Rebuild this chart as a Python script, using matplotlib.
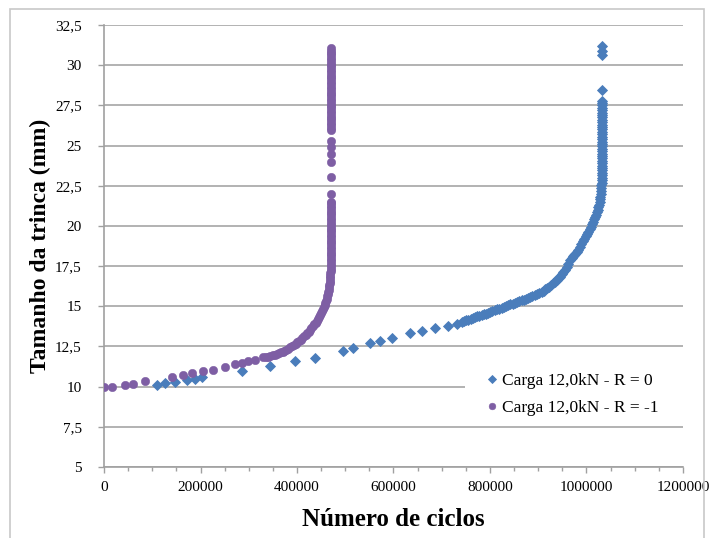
import matplotlib
matplotlib.use("Agg")
import matplotlib.pyplot as plt
from matplotlib.ticker import MultipleLocator, FuncFormatter
from matplotlib.patches import Rectangle

plt.rcParams['font.family'] = ['Liberation Serif', 'DejaVu Serif']

# Carga 12,0kN - R = 0 (blue diamonds)
r0_ciclos = [109000, 126000, 147000, 171000, 188500, 202500, 285000, 344000, 396000, 437000,
             496000, 517000, 551000, 572000, 596000, 634000, 660000, 686000, 713000, 731000,
             741000, 745500, 750000, 755000, 760000, 764500, 769000, 773500, 778000, 782500,
             787000, 791500, 796000, 800500, 805000, 809500, 814000, 819000, 824000, 828500,
             833000, 837500, 842000, 847000, 852000, 856500, 861000, 865500, 870000, 874500,
             879000, 883500, 888000, 892500, 897000, 902000, 907000, 911000, 915000, 919000,
             923000, 927000, 931000, 934500, 938000, 941500, 945000, 948500, 952000, 955500,
             959000, 962500, 966000, 969000, 972000, 974500, 977000, 980000, 983000, 986000,
             989000, 992000, 995000, 998000, 1001000, 1004000, 1007000, 1009500, 1012000, 1014000,
             1016000, 1018000, 1020000, 1021500, 1023000, 1024500, 1026000, 1027000, 1028000, 1029000,
             1029500, 1030000, 1030500, 1031000, 1031500, 1032000, 1032000,
             1032500, 1032500, 1032500, 1032500, 1032500, 1032500, 1032500, 1032500,
             1032500, 1032500, 1032500, 1032500, 1032500, 1032500, 1032500, 1032500,
             1032500, 1032500, 1032500, 1032500, 1032500, 1032500, 1032500, 1032500,
             1032500, 1032500, 1032500, 1032500, 1032500, 1032500, 1032500, 1032500,
             1032000, 1031500, 1031500, 1031500]
r0_trinca = [10.10, 10.20, 10.30, 10.41, 10.45, 10.58, 10.99, 11.28, 11.59, 11.80,
             12.21, 12.42, 12.69, 12.84, 13.04, 13.33, 13.48, 13.62, 13.80, 13.92,
             14.05, 14.08, 14.12, 14.17, 14.22, 14.27, 14.33, 14.37, 14.42, 14.46,
             14.51, 14.55, 14.60, 14.65, 14.70, 14.75, 14.81, 14.86, 14.92, 14.97,
             15.02, 15.07, 15.12, 15.17, 15.22, 15.27, 15.32, 15.37, 15.42, 15.47,
             15.53, 15.58, 15.64, 15.70, 15.76, 15.83, 15.90, 15.97, 16.05, 16.13,
             16.22, 16.32, 16.42, 16.52, 16.62, 16.73, 16.85, 16.98, 17.12, 17.28,
             17.45, 17.65, 17.85, 17.98, 18.10, 18.18, 18.25, 18.37, 18.50, 18.70,
             18.90, 19.05, 19.20, 19.35, 19.50, 19.65, 19.80, 19.95, 20.10, 20.25,
             20.40, 20.55, 20.70, 20.85, 21.00, 21.15, 21.30, 21.48, 21.65, 21.82,
             22.00, 22.18, 22.35, 22.52, 22.70, 22.85, 23.00,
             23.15, 23.30, 23.45, 23.60, 23.75, 23.90, 24.05, 24.20,
             24.35, 24.50, 24.65, 24.80, 24.95, 25.10, 25.25, 25.40,
             25.55, 25.70, 25.85, 26.00, 26.15, 26.30, 26.45, 26.60,
             26.75, 26.90, 27.05, 27.20, 27.35, 27.50, 27.65, 27.80,
             28.45, 30.62, 30.90, 31.18]

# Carga 12,0kN - R = -1 (purple circles)
rm1_ciclos = [0, 16000, 43500, 59500, 85000, 140000, 163000, 182000, 206000, 226500,
              251000, 271500, 285000, 299000, 313000,
              330000, 335000, 340000, 345000, 350000, 354000, 358000, 362000, 366000, 370000,
              374000, 378000, 382000, 386000, 390000, 393500, 397000, 400500, 404000, 407500,
              411000, 414500, 418000, 421000, 424000, 427000, 430000, 433000, 436000, 438500,
              441000, 443500, 446000, 448000, 450000, 452000, 454000, 456000, 457500, 459000,
              460500, 462000, 463000, 464000, 465000, 466000, 466500, 467000, 467500, 468000,
              468500, 469000, 469200, 469500, 469800, 470000, 470300, 470500, 470700, 470900,
              471000, 471200, 471200, 471300, 471300, 471300, 471400, 471400, 471400, 471400,
              471500, 471500, 471500, 471500, 471500, 471500, 471500, 471500, 471500, 471500,
              471500, 471500, 471500, 471500, 471500, 471500, 471500, 471500,
              471500, 471500, 471500, 471500, 471500, 471500, 471500, 471500, 471500, 471500,
              471500, 471500, 471500, 471500, 471500, 471500, 471500, 471500, 471500, 471500,
              471500, 471500, 471500, 471500, 471500, 471500, 471500, 471500, 471500, 471500,
              471500, 471500, 471500, 471500, 471500, 471500]
rm1_trinca = [10.00, 10.00, 10.10, 10.17, 10.33, 10.58, 10.72, 10.86, 10.99, 11.05,
              11.20, 11.40, 11.48, 11.58, 11.68,
              11.82, 11.85, 11.87, 11.91, 11.95, 11.99, 12.03, 12.08, 12.13, 12.18,
              12.24, 12.30, 12.37, 12.44, 12.52, 12.60, 12.68, 12.76, 12.84, 12.93,
              13.02, 13.12, 13.22, 13.32, 13.42, 13.52, 13.63, 13.75, 13.87, 13.97,
              14.08, 14.20, 14.33, 14.45, 14.57, 14.70, 14.83, 14.95, 15.08, 15.22,
              15.35, 15.48, 15.62, 15.76, 15.90, 16.04, 16.18, 16.32, 16.46, 16.60,
              16.75, 16.90, 17.05, 17.20, 17.35, 17.50, 17.65, 17.80, 17.95, 18.10,
              18.25, 18.40, 18.55, 18.70, 18.85, 19.00, 19.15, 19.30, 19.45, 19.60,
              19.75, 19.90, 20.05, 20.20, 20.35, 20.50, 20.65, 20.80, 20.95, 21.10,
              21.25, 21.40, 21.50, 22.00, 23.05, 24.00, 24.50, 24.90,
              25.30, 25.96, 26.11, 26.26, 26.41, 26.56, 26.71, 26.86, 27.01, 27.16,
              27.31, 27.46, 27.61, 27.76, 27.91, 28.06, 28.21, 28.36, 28.51, 28.66,
              28.81, 28.96, 29.11, 29.26, 29.41, 29.56, 29.71, 29.86, 30.01, 30.16,
              30.31, 30.46, 30.61, 30.76, 30.91, 31.04]

labels = ['Carga 12,0kN - R = 0', 'Carga 12,0kN - R = -1']
xlabel = 'Número de ciclos'
ylabel = 'Tamanho da trinca (mm)'

W, H = 715, 538
fig = plt.figure(figsize=(W / 100, H / 100), dpi=100)
fig.patch.set_facecolor('white')

# outer chart border
fig.add_artist(Rectangle((10 / W, -0.01), (W - 11) / W - 10 / W, 1 - 9 / H + 0.01,
                         transform=fig.transFigure, fill=False, edgecolor='#c8c8c8', lw=1.2))

ax = fig.add_axes([104 / W, 1 - 467 / H, (683 - 104) / W, (467 - 25) / H])

blue = '#4a7dbb'
purple = '#7e5ea4'
ax.plot(r0_ciclos, r0_trinca, linestyle='none', marker='D', markersize=4.6,
        color=blue, mec=blue, mew=0.6, label=labels[0], zorder=3)
ax.plot(rm1_ciclos, rm1_trinca, linestyle='none', marker='o', markersize=6.0,
        color=purple, mec=purple, mew=0.4, label=labels[1], zorder=4)

ax.set_xlim(0, 1200000)
ax.set_ylim(5, 32.5)
ax.xaxis.set_major_locator(MultipleLocator(200000))
ax.xaxis.set_minor_locator(MultipleLocator(50000))
ax.yaxis.set_major_locator(MultipleLocator(2.5))

def yfmt(v, pos):
    return ('%g' % v).replace('.', ',')

ax.yaxis.set_major_formatter(FuncFormatter(yfmt))
ax.xaxis.set_major_formatter(FuncFormatter(lambda v, p: '%d' % v))

ax.grid(axis='y', color='#a6a6a6', lw=1.2, zorder=0)
ax.set_axisbelow(True)
for s in ['top', 'right']:
    ax.spines[s].set_visible(False)
for s in ['left', 'bottom']:
    ax.spines[s].set_color('#a0a0a0')
    ax.spines[s].set_linewidth(1.2)

ax.tick_params(axis='both', which='both', direction='out', color='#a0a0a0', width=1.0)
ax.tick_params(axis='x', which='major', length=4, pad=6, labelsize=11)
ax.tick_params(axis='x', which='minor', length=3)
ax.tick_params(axis='y', which='major', length=4, pad=12, labelsize=11)

ax.set_xlabel(xlabel, fontsize=18, fontweight='bold')
ax.set_ylabel(ylabel, fontsize=17, fontweight='bold')
ax.xaxis.set_label_coords(0.5, -(508 - 467) / 442)
ax.yaxis.set_label_coords(-(104 - 51) / 579, 0.5)

# legend area (white box hiding the gridline like the reference)
ax.add_patch(Rectangle(((465 - 104) / 579, (467 - 422) / 442), 1 - (465 - 104) / 579,
                       (422 - 365) / 442, transform=ax.transAxes, facecolor='white',
                       edgecolor='none', zorder=2.5))
leg = ax.legend(loc='upper left', bbox_to_anchor=((483 - 104) / 579, (467 - 373) / 442),
                frameon=False, fontsize=12.5, handletextpad=0.1, handlelength=1.0,
                borderpad=0, labelspacing=0.6, markerscale=0.8, borderaxespad=0)
leg.set_zorder(5)

fig.savefig('out.png', dpi=100)
